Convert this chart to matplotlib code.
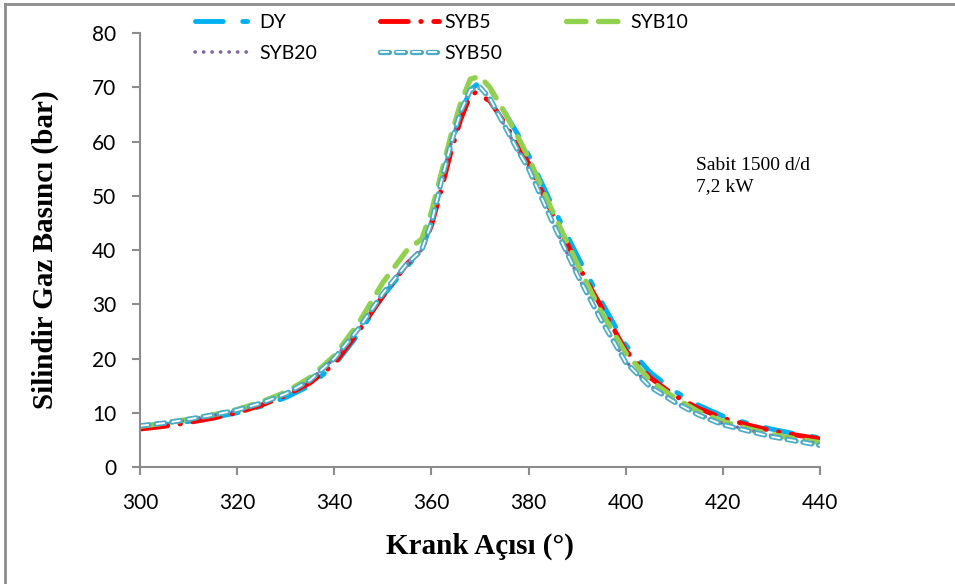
import numpy as np
import matplotlib.pyplot as plt
from matplotlib.lines import Line2D

# Krank açısı (°) ve silindir gaz basıncı (bar)
aci_dy = [300, 305, 310, 315, 320, 325, 330, 335, 340, 345, 350, 355, 358, 360, 362, 364, 366, 368, 370,
          372, 375, 378, 380, 385, 390, 395, 400, 405, 410, 415, 420, 425, 430, 435, 440]
dy = [7.3, 7.8, 8.4, 9.1, 10.0, 11.2, 12.8, 15.0, 18.8, 24.5, 31.5, 37.0, 40.0, 45.0, 52.0, 59.0, 65.0, 69.5, 71.0,
      69.8, 65.5, 61.0, 57.5, 48.0, 39.0, 30.5, 22.5, 17.5, 14.0, 11.4, 9.4, 8.1, 7.0, 6.1, 5.4]

aci_syb5 = [300, 305, 310, 315, 320, 325, 330, 335, 340, 345, 350, 355, 358, 360, 362, 364, 366, 368, 369,
            372, 375, 378, 380, 385, 390, 395, 400, 405, 410, 415, 420, 425, 430, 435, 440]
syb5 = [7.0, 7.5, 8.2, 9.0, 10.0, 11.4, 13.2, 15.5, 19.0, 25.0, 31.5, 37.5, 40.0, 44.5, 51.0, 58.0, 64.0, 68.5, 69.0,
        67.5, 63.5, 59.0, 56.0, 46.5, 37.5, 29.5, 21.5, 16.5, 13.2, 10.8, 9.0, 7.8, 6.7, 5.9, 5.2]

aci_syb10 = [300, 305, 310, 315, 320, 325, 330, 335, 340, 345, 350, 355, 358, 360, 362, 364, 366, 368, 370,
             372, 375, 378, 380, 385, 390, 395, 400, 405, 410, 415, 420, 425, 430, 435, 440]
syb10 = [7.5, 8.1, 8.8, 9.6, 10.6, 12.0, 13.8, 16.5, 20.5, 26.5, 34.0, 40.0, 42.0, 47.0, 54.0, 61.0, 67.0, 71.5, 72.0,
         70.0, 65.5, 60.5, 57.0, 47.0, 37.5, 28.5, 21.0, 16.0, 12.8, 10.2, 8.4, 7.1, 6.0, 5.2, 4.5]

aci_syb20 = [300, 305, 310, 315, 320, 325, 330, 335, 340, 345, 350, 355, 358, 360, 362, 364, 366, 368, 370,
             372, 375, 378, 380, 385, 390, 395, 400, 405, 410, 415, 420, 425, 430, 435, 440]
syb20 = [7.5, 8.0, 8.7, 9.5, 10.4, 11.7, 13.4, 16.0, 20.0, 25.5, 32.0, 37.5, 40.0, 45.0, 52.5, 59.5, 65.5, 69.5, 70.0,
         68.0, 63.0, 58.0, 55.0, 45.0, 35.5, 27.0, 19.5, 15.0, 12.2, 9.8, 8.0, 6.9, 5.8, 5.0, 4.3]

aci_syb50 = [300, 305, 310, 315, 320, 325, 330, 335, 340, 345, 350, 355, 358, 360, 362, 364, 366, 368, 370,
             372, 375, 378, 380, 385, 390, 395, 400, 405, 410, 415, 420, 425, 430, 435, 440]
syb50 = [7.6, 8.1, 8.8, 9.6, 10.5, 11.8, 13.5, 16.0, 20.0, 25.5, 32.0, 37.5, 40.0, 45.0, 52.5, 59.5, 65.5, 69.5, 70.0,
         68.0, 63.0, 58.0, 55.0, 45.0, 35.5, 27.0, 19.3, 14.8, 12.0, 9.6, 7.8, 6.7, 5.6, 4.8, 4.0]

plt.rcParams['font.family'] = ['Lato', 'DejaVu Sans']

fig = plt.figure(figsize=(9.55, 5.84), dpi=100)
ax = fig.add_axes([0.1466, 0.2003, 0.712, 0.7432])

lw = 3.5
# desenler nokta cinsinden, çizgi kalınlığına bölünerek veriliyor
l_dy, = ax.plot(aci_dy, dy, color='#00B0F0', lw=lw, dashes=(20 / lw, 14 / lw, 3.5 / lw, 14 / lw),
                dash_capstyle='round', label='DY')
l_5, = ax.plot(aci_syb5, syb5, color='#FF0000', lw=lw, dashes=(20 / lw, 9 / lw, 0.1, 9 / lw),
               dash_capstyle='round', label='SYB5')
l_10, = ax.plot(aci_syb10, syb10, color='#92D050', lw=3.8, dashes=(14 / 3.8, 9 / 3.8),
                dash_capstyle='round', label='SYB10')
l_20, = ax.plot(aci_syb20, syb20, color='#8064A2', lw=2.6, dashes=(0.05, 6 / 2.6),
                dash_capstyle='round', label='SYB20')
# SYB50: içi boş kesikli çizgi (mavi dış + beyaz iç)
on, off = 6.5, 5.0
l_50a, = ax.plot(aci_syb50, syb50, color='#4BACC6', lw=3.8, dashes=(on / 3.8, off / 3.8), dash_capstyle='round')
l_50b, = ax.plot(aci_syb50, syb50, color='white', lw=1.3, dashes=(on / 1.3, off / 1.3), dash_capstyle='butt')

ax.set_xlim(300, 440)
ax.set_ylim(0, 80)
ax.set_xticks(np.arange(300, 441, 20))
ax.set_yticks(np.arange(0, 81, 10))
for s in ['top', 'right']:
    ax.spines[s].set_visible(False)
for s in ['left', 'bottom']:
    ax.spines[s].set_color('#8C8C8C')
    ax.spines[s].set_linewidth(1.5)
ax.tick_params(direction='out', length=6, width=1.5, color='#8C8C8C', labelsize=15)
ax.tick_params(axis='x', pad=13)
ax.tick_params(axis='y', pad=11)

ax.set_xlabel('Krank Açısı (°)', family='Liberation Serif', fontweight='bold', fontsize=21, labelpad=14)
ax.set_ylabel('Silindir Gaz Basıncı (bar)', family='Liberation Serif', fontweight='bold', fontsize=21, labelpad=24)

ax.text(0.818, 0.715, 'Sabit 1500 d/d\n7,2 kW', transform=ax.transAxes, family='Liberation Serif',
        fontsize=14, va='top', linespacing=1.3)

# sıra: sütun sütun dolduğu için DY, SYB20, SYB5, SYB50, SYB10
fig.legend([l_dy, l_20, l_5, (l_50a, l_50b), l_10], ['DY', 'SYB20', 'SYB5', 'SYB50', 'SYB10'],
           loc='upper left', bbox_to_anchor=(0.186, 1.006), ncol=3, frameon=False, fontsize=14,
           handlelength=3.0, columnspacing=3.25, handletextpad=0.3, labelspacing=0.7)

# şekil çerçevesi (üst ve sol)
fig.add_artist(Line2D([5 / 955, 1], [1 - 4 / 584, 1 - 4 / 584], transform=fig.transFigure,
                      color='#8C8C8C', lw=2))
fig.add_artist(Line2D([5 / 955, 5 / 955], [0, 1 - 4 / 584], transform=fig.transFigure,
                      color='#8C8C8C', lw=2))

fig.savefig('out.png', dpi=100)
